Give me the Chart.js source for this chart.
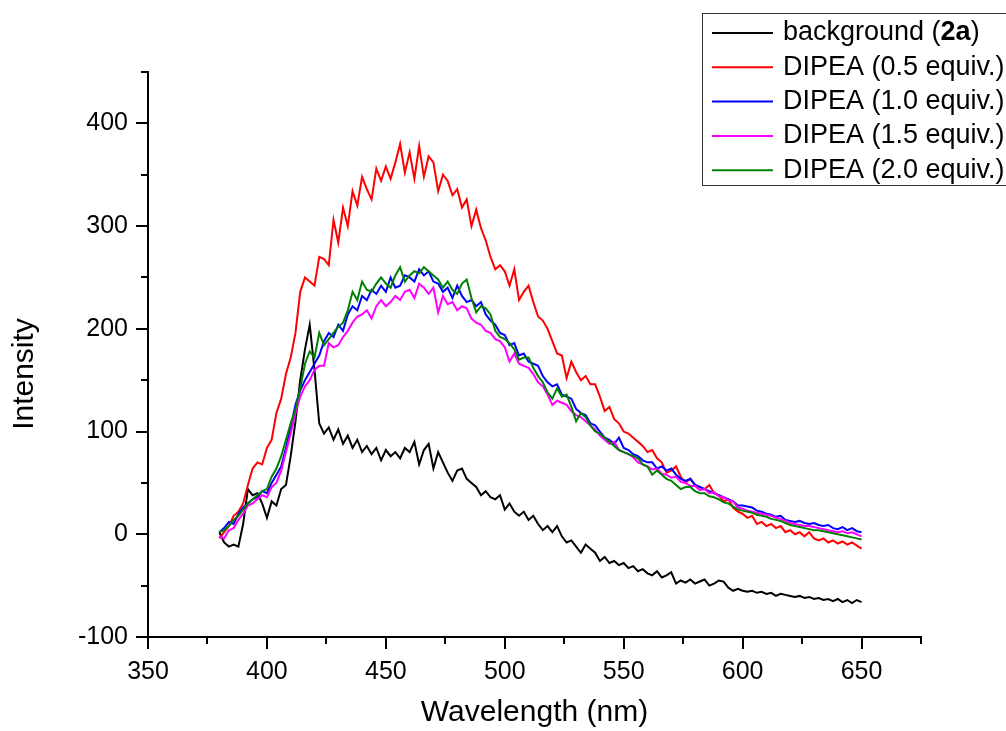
<!DOCTYPE html>
<html>
<head>
<meta charset="utf-8">
<script src="https://cdn.jsdelivr.net/npm/chart.js@4"></script>
<style>
  body { margin: 0; background: #fff; }
  canvas { display: block; }
</style>
</head>
<body>
<canvas id="spectra" width="1006" height="731"></canvas>
<script>
// wavelengths (nm), 2 nm steps
const wavelength = [
  380, 382, 384, 386, 388, 390, 392, 394, 396, 398,
  400, 402, 404, 406, 408, 410, 412, 414, 416, 418,
  420, 422, 424, 426, 428, 430, 432, 434, 436, 438,
  440, 442, 444, 446, 448, 450, 452, 454, 456, 458,
  460, 462, 464, 466, 468, 470, 472, 474, 476, 478,
  480, 482, 484, 486, 488, 490, 492, 494, 496, 498,
  500, 502, 504, 506, 508, 510, 512, 514, 516, 518,
  520, 522, 524, 526, 528, 530, 532, 534, 536, 538,
  540, 542, 544, 546, 548, 550, 552, 554, 556, 558,
  560, 562, 564, 566, 568, 570, 572, 574, 576, 578,
  580, 582, 584, 586, 588, 590, 592, 594, 596, 598,
  600, 602, 604, 606, 608, 610, 612, 614, 616, 618,
  620, 622, 624, 626, 628, 630, 632, 634, 636, 638,
  640, 642, 644, 646, 648, 650
];

const background = [
  2, -8, -12, -10, -12, 10, 44, 38, 40, 30,
  16, 32, 28, 44, 48, 76, 110, 150, 180, 204,
  160, 108, 98, 104, 92, 102, 88, 96, 84, 92,
  80, 86, 78, 84, 72, 82, 76, 80, 74, 84,
  80, 90, 68, 82, 88, 64, 80, 70, 60, 52,
  62, 64, 54, 50, 46, 38, 42, 36, 34, 38,
  24, 30, 22, 18, 22, 14, 18, 10, 4, 8,
  2, 8, -2, -8, -6, -12, -18, -10, -14, -18,
  -26, -22, -28, -26, -30, -28, -33, -31, -36, -34,
  -38, -40, -36, -42, -40, -37, -48, -45, -47, -44,
  -48, -46, -44, -50, -48, -45, -46, -52, -55, -53,
  -55, -56, -55, -57, -56, -58, -57, -60, -58, -59,
  -60, -61, -60, -62, -61, -63, -62, -64, -63, -65,
  -63, -66, -64, -67, -64, -66
];

const dipea05 = [
  -4, 2, 8, 18, 22, 30, 48, 64, 70, 68,
  84, 92, 118, 132, 156, 172, 196, 236, 250, 246,
  242, 270, 268, 262, 306, 284, 318, 300, 334, 320,
  348, 336, 326, 356, 344, 358, 346, 362, 380, 352,
  372, 346, 378, 348, 368, 362, 334, 350, 344, 330,
  336, 318, 326, 300, 316, 298, 286, 270, 258, 262,
  256, 242, 258, 228, 236, 242, 226, 212, 208, 200,
  188, 176, 174, 152, 168, 158, 150, 154, 146, 146,
  134, 120, 124, 112, 108, 100, 98, 94, 90, 86,
  80, 82, 74, 70, 60, 62, 66, 56, 50, 54,
  48, 46, 44, 48, 40, 38, 32, 34, 26, 22,
  20, 16, 18, 10, 12, 8, 10, 6, 8, 2,
  4, 0, 2, -2, 2, -4, -6, -4, -8, -6,
  -9, -7, -10, -8, -11, -14
];

const dipea10 = [
  2, 6, 12, 10, 20, 26, 30, 34, 36, 42,
  40, 50, 58, 66, 84, 104, 126, 140, 150, 158,
  166, 174, 188, 196, 192, 204, 198, 214, 222, 218,
  232, 228, 238, 234, 242, 236, 250, 240, 242, 252,
  250, 246, 258, 252, 256, 246, 244, 236, 240, 230,
  242, 232, 226, 228, 222, 226, 214, 208, 204, 196,
  194, 184, 186, 174, 176, 168, 166, 164, 154, 148,
  144, 146, 136, 134, 132, 122, 118, 116, 108, 106,
  100, 94, 92, 88, 94, 84, 82, 78, 76, 72,
  70, 70, 64, 66, 62, 64, 58, 54, 52, 54,
  48, 46, 44, 42, 40, 38, 36, 34, 32, 28,
  28, 27, 26, 23, 22, 20, 19, 17, 18, 14,
  13, 12, 13, 11, 10, 11, 9, 8, 9, 6,
  5, 7, 4, 6, 3, 2
];

const dipea15 = [
  -2, -4, 4, 6, 14, 20, 28, 30, 34, 38,
  36, 46, 50, 62, 80, 98, 118, 134, 144, 150,
  160, 164, 164, 186, 182, 184, 192, 198, 206, 212,
  214, 218, 210, 222, 228, 222, 226, 232, 228, 236,
  238, 230, 244, 240, 234, 240, 216, 232, 224, 226,
  218, 222, 220, 210, 206, 204, 198, 196, 190, 188,
  182, 168, 176, 166, 164, 162, 156, 148, 144, 136,
  126, 130, 128, 126, 120, 116, 114, 110, 106, 102,
  96, 92, 88, 90, 82, 80, 78, 75, 70, 68,
  66, 63, 64, 59, 58, 55, 56, 51, 50, 47,
  47, 43, 44, 40, 41, 37, 36, 33, 32, 26,
  25, 23, 22, 21, 20, 19, 18, 16, 15, 13,
  11, 10, 9, 8, 8, 7, 6, 5, 4, 3,
  2, 3, 1, 2, 0, -2
];

const dipea20 = [
  2, 4, 8, 14, 18, 24, 30, 34, 38, 42,
  44, 56, 64, 76, 92, 108, 122, 142, 166, 178,
  172, 196, 184, 190, 196, 202, 206, 218, 236, 228,
  246, 238, 236, 244, 250, 244, 240, 252, 260, 246,
  252, 256, 254, 260, 256, 252, 248, 240, 246, 238,
  234, 244, 248, 230, 216, 222, 220, 214, 198, 192,
  190, 186, 180, 170, 172, 172, 162, 154, 148, 138,
  132, 142, 134, 136, 124, 110, 118, 114, 106, 100,
  98, 94, 90, 86, 82, 80, 78, 76, 74, 68,
  66, 58, 62, 58, 54, 52, 48, 44, 46, 46,
  42, 40, 40, 37, 36, 34, 31, 30, 27, 24,
  23, 22, 21, 19, 18, 17, 15, 14, 13, 11,
  9, 8, 7, 6, 5, 4, 4, 3, 2, 1,
  0, -1, -2, -3, -4, -5
];

const seriesLabels = ['background (2a)', 'DIPEA (0.5 equiv.)', 'DIPEA (1.0 equiv.)', 'DIPEA (1.5 equiv.)', 'DIPEA (2.0 equiv.)'];
const seriesColors = ['#000000', '#ff0000', '#0000ff', '#ff00ff', '#008000'];
const seriesValues = [background, dipea05, dipea10, dipea15, dipea20];
const boldPart = '2a';
const yTitle = 'Intensity';

const FONT = "'Liberation Sans', Arial, sans-serif";

function toPoints(values) {
  return values.map((v, i) => ({ x: wavelength[i], y: v }));
}

// major/minor tick marks drawn outward from the axis lines, plus the y title
const axisMarks = {
  id: 'axisMarks',
  afterDraw(chart) {
    const ctx = chart.ctx;
    const xs = chart.scales.x;
    const ys = chart.scales.y;
    ctx.save();
    ctx.strokeStyle = '#000';
    ctx.lineWidth = 2;
    ctx.beginPath();
    xs.ticks.forEach(t => {
      const px = Math.round(xs.getPixelForValue(t.value));
      const len = t.value % 50 === 0 ? 12 : 7;
      ctx.moveTo(px, xs.top);
      ctx.lineTo(px, xs.top + len);
    });
    ys.ticks.forEach(t => {
      const py = Math.round(ys.getPixelForValue(t.value));
      const len = t.value % 100 === 0 ? 12 : 7;
      ctx.moveTo(ys.right, py);
      ctx.lineTo(ys.right - len, py);
    });
    ctx.stroke();

    // y title sits a little below the middle of the axis in the original
    ctx.translate(25, 374);
    ctx.rotate(-Math.PI / 2);
    ctx.fillStyle = '#000';
    ctx.font = '30px ' + FONT;
    ctx.textAlign = 'center';
    ctx.textBaseline = 'middle';
    ctx.fillText(yTitle, 0, 0);
    ctx.restore();
  }
};

const legendBox = {
  id: 'legendBox',
  afterDraw(chart) {
    const ctx = chart.ctx;
    ctx.save();
    ctx.strokeStyle = '#333';
    ctx.lineWidth = 1;
    ctx.strokeRect(702.5, 13.5, 340, 172);
    chart.data.datasets.forEach((ds, i) => {
      const y = 33 + i * 34.3;
      ctx.strokeStyle = ds.borderColor;
      ctx.lineWidth = 2;
      ctx.beginPath();
      ctx.moveTo(712, y);
      ctx.lineTo(773, y);
      ctx.stroke();
      ctx.fillStyle = '#000';
      ctx.textBaseline = 'middle';
      let x = 783;
      const parts = ds.label.split(boldPart);
      parts.forEach((p, k) => {
        ctx.font = '27px ' + FONT;
        ctx.fillText(p, x, y);
        x += ctx.measureText(p).width;
        if (k < parts.length - 1) {
          ctx.font = 'bold 27px ' + FONT;
          ctx.fillText(boldPart, x, y);
          x += ctx.measureText(boldPart).width;
        }
      });
    });
    ctx.restore();
  }
};

const ctx = document.getElementById('spectra').getContext('2d');

new Chart(ctx, {
  type: 'line',
  data: {
    datasets: seriesValues.map((vals, i) => ({
      label: seriesLabels[i],
      data: toPoints(vals),
      borderColor: seriesColors[i],
      backgroundColor: seriesColors[i],
      borderWidth: 2,
      pointRadius: 0,
      tension: 0,
      fill: false,
      order: seriesValues.length - 1 - i
    }))
  },
  options: {
    responsive: false,
    animation: false,
    layout: { padding: { top: 72, right: 85, left: 0, bottom: 0 } },
    plugins: {
      legend: { display: false },
      tooltip: { enabled: false }
    },
    scales: {
      x: {
        type: 'linear',
        min: 350,
        max: 675,
        afterFit: s => { s.height = 94; },
        grid: { display: false, drawTicks: false },
        border: { display: true, color: '#000', width: 2 },
        ticks: {
          stepSize: 25,
          autoSkip: false,
          maxRotation: 0,
          padding: 20,
          color: '#000',
          font: { family: FONT, size: 25 },
          callback: v => (v % 50 === 0 ? v : '')
        },
        title: {
          display: true,
          text: 'Wavelength (nm)',
          color: '#000',
          font: { family: FONT, size: 30 },
          padding: { top: 0, bottom: 0 }
        }
      },
      y: {
        min: -100,
        max: 450,
        afterFit: s => { s.width = 148; },
        grid: { display: false, drawTicks: false },
        border: { display: true, color: '#000', width: 2 },
        ticks: {
          stepSize: 50,
          autoSkip: false,
          padding: 20,
          color: '#000',
          font: { family: FONT, size: 25 },
          callback: v => (v % 100 === 0 ? v : '')
        }
      }
    }
  },
  plugins: [axisMarks, legendBox]
});
</script>
</body>
</html>
